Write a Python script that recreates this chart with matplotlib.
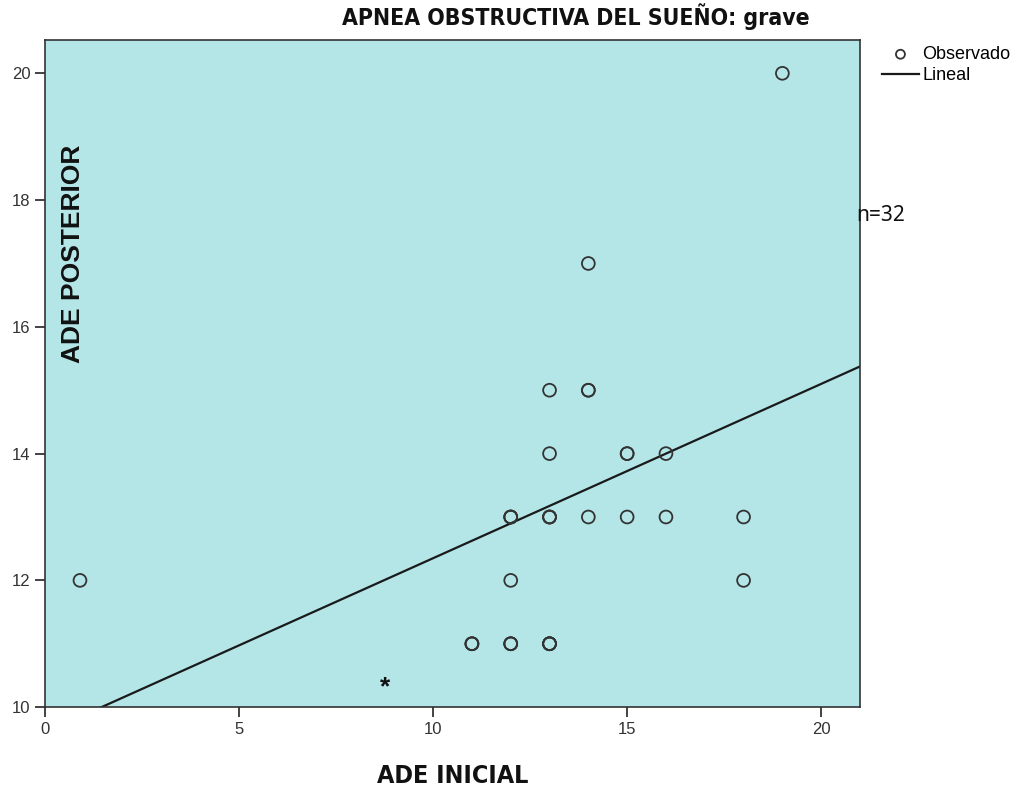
import matplotlib
matplotlib.use("Agg")
import matplotlib.pyplot as plt
import numpy as np

# ── Data ──────────────────────────────────────────────────────────────────────
ade_inicial = [0.9, 19, 14, 13, 14, 14, 13, 15, 15, 16,
               12, 12, 12, 13, 13, 13, 14, 15, 16, 18,
               12, 18, 11, 11, 11, 12, 12, 12, 13, 13, 13, 13]
ade_posterior = [12, 20, 17, 15, 15, 15, 14, 14, 14, 14,
                 13, 13, 13, 13, 13, 13, 13, 13, 13, 13,
                 12, 12, 11, 11, 11, 11, 11, 11, 11, 11, 11, 11]
fit_slope = 0.275
fit_intercept = 9.60
x_ticks = [0, 5, 10, 15, 20]
y_ticks = [10, 12, 14, 16, 18, 20]

BG = "#b4e6e8"
plt.rcParams["font.family"] = ["Liberation Sans", "DejaVu Sans"]

fig = plt.figure(figsize=(10.26, 7.91), dpi=100)
ax = fig.add_axes([0.0439, 0.106, 0.7943, 0.843])
ax.set_facecolor(BG)

ax.scatter(ade_inicial, ade_posterior, s=85, facecolors="none",
           edgecolors="#333333", linewidths=1.3, zorder=3, label="Observado")
xs = np.array([0, 21])
ax.plot(xs, fit_intercept + fit_slope * xs, color="#1a1a1a", linewidth=1.6,
        zorder=2, label="Lineal")

ax.set_xlim(0, 21)
ax.set_ylim(10, 20.52)
ax.set_xticks(x_ticks)
ax.set_yticks(y_ticks)
ax.tick_params(direction="out", length=7, width=1.2, colors="#222222",
               labelsize=12, labelcolor="#333333")
for sp in ax.spines.values():
    sp.set_color("#333333")
    sp.set_linewidth(1.2)

ax.text(8.76, 10.31, "*", fontsize=19, fontweight="bold", ha="center",
        va="center", color="#111111")
ax.text(0.034, 0.68, "ADE POSTERIOR", transform=ax.transAxes, rotation=90,
        fontsize=19, fontweight="bold", ha="center", va="center", color="#111111")

fig.text(0.561, 0.979, "APNEA OBSTRUCTIVA DEL SUEÑO: grave", family="DejaVu Sans",
         stretch="condensed", fontsize=16.5, fontweight="bold", ha="center",
         va="center", color="#111111")
fig.text(0.441, 0.019, "ADE INICIAL", family="DejaVu Sans", stretch="condensed",
         fontsize=18, fontweight="bold", ha="center", va="center", color="#111111")
fig.text(0.835, 0.728, "n=32", family=["Noto Sans", "DejaVu Sans"], fontsize=15,
         ha="left", va="center", color="#111111")

fig.legend(loc="upper left", bbox_to_anchor=(0.853, 0.951), frameon=False,
           fontsize=13, handlelength=2.0, handletextpad=0.2, labelspacing=0.25,
           borderaxespad=0, markerscale=0.7)

fig.savefig("out.png", dpi=100)
